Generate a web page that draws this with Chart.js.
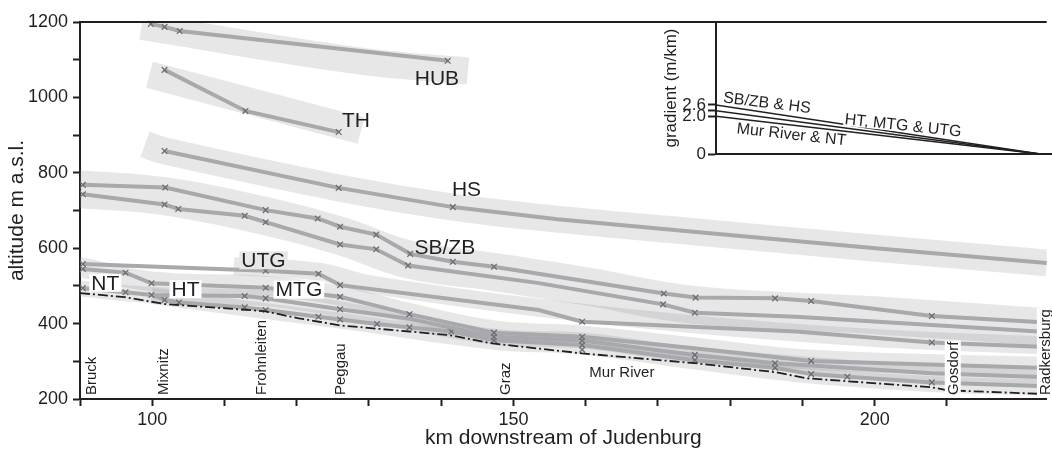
<!DOCTYPE html>
<html>
<head>
<meta charset="utf-8">
<script src="https://cdn.jsdelivr.net/npm/chart.js@4.4.1/dist/chart.umd.min.js"></script>
<style>
  body { margin: 0; background: #fff; }
  #wrap { position: relative; width: 1052px; height: 451px; }
  #wrap canvas { position: absolute; left: 0; top: 0; }
</style>
</head>
<body>
<div id="wrap">
  <canvas id="profile" width="1052" height="451"></canvas>
  <canvas id="inset" width="1052" height="451"></canvas>
</div>
<script>
// Terrace long profiles: km downstream of Judenburg vs altitude (m a.s.l.)
// *Marked = 1 where a surveyed point (x) sits on the line
const hubKm = [99.8, 101.7, 103.8, 140.9];
const hubAlt = [1195, 1187, 1176, 1097];
const hubMarked = [1, 1, 1, 1];

const thKm = [101.7, 112.9, 125.8];
const thAlt = [1073, 964, 908];
const thMarked = [1, 1, 1];

const hsKm = [101.7, 125.8, 141.6, 156.1, 175.3, 200.1, 223.8];
const hsAlt = [858, 760, 709, 677, 643, 600, 561];
const hsMarked = [1, 1, 1, 0, 0, 0, 0];

const sbzbUpperKm = [90.4, 101.8, 115.7, 122.9, 126.0, 131.0, 135.7, 141.6, 147.3, 170.8, 175.2, 186.2, 191.2, 207.9, 223.8];
const sbzbUpperAlt = [768, 761, 701, 679, 657, 636, 585, 564, 551, 480, 469, 467, 460, 420, 403];
const sbzbUpperMarked = [1, 1, 1, 1, 1, 1, 1, 1, 1, 1, 1, 1, 1, 1, 0];

const sbzbLowerKm = [90.4, 101.7, 103.6, 112.8, 115.7, 126.0, 131.0, 135.4, 153.3, 170.7, 175.1, 189.1, 223.8];
const sbzbLowerAlt = [743, 716, 704, 686, 669, 610, 597, 554, 508, 451, 429, 418, 378];
const sbzbLowerMarked = [1, 1, 1, 1, 1, 1, 1, 1, 0, 1, 1, 0, 0];

const utgKm = [90.4, 115.7, 123.0, 126.0, 153.5, 159.5, 189.1, 207.9, 223.8];
const utgAlt = [558, 540, 532, 502, 436, 405, 379, 350, 338];
const utgMarked = [1, 1, 1, 1, 0, 1, 0, 1, 0];

const mtgKm = [90.4, 96.3, 99.9, 115.7, 126.0, 135.6, 147.3, 159.5, 175.3, 191.2, 223.8];
const mtgAlt = [545, 535, 507, 495, 471, 425, 376, 365, 334, 301, 282];
const mtgMarked = [1, 1, 1, 1, 1, 1, 1, 1, 0, 1, 0];

const htKm = [90.4, 96.3, 99.9, 112.8, 115.7, 126.0, 135.6, 147.3, 159.5, 175.1, 186.2, 207.9, 223.8];
const htAlt = [494, 483, 476, 473, 467, 438, 413, 365, 355, 317, 295, 268, 258];
const htMarked = [1, 1, 1, 1, 1, 1, 0, 1, 1, 1, 1, 0, 0];

const ntKm = [99.9, 101.7, 103.7, 112.8, 115.7, 123.0, 126.0, 131.1, 135.6, 141.4, 147.3, 159.5, 175.1, 186.2, 191.2, 196.2, 207.9, 223.8];
const ntAlt = [476, 463, 456, 443, 436, 418, 411, 399, 390, 379, 356, 343, 303, 283, 266, 259, 244, 234];
const ntMarked = [0, 1, 1, 1, 1, 1, 1, 1, 1, 1, 1, 1, 1, 1, 1, 1, 1, 0];

// survey points not tied to one line
const extraKm = [159.5];
const extraAlt = [331];

// Mur River
const riverKm = [90.0, 96.2, 101.7, 115.5, 120.3, 126.1, 135.6, 141.3, 146.8, 153.3, 159.5, 175.1, 186.3, 190.5, 207.9, 210.1, 223.8];
const riverAlt = [481, 470, 452, 433, 414, 395, 379, 369, 348, 334, 321, 295, 271, 255, 231, 223, 213];

// grey envelopes around each terrace level (centre lines)
const hubBandKm = [98.5, 128.6, 143.7];
const hubBandAlt = [1188, 1097, 1070];
const thBandKm = [99.6, 128.9];
const thBandAlt = [1060, 912];
const hsBandKm = [99.0, 101.7, 125.8, 141.6, 156.1, 175.3, 200.1, 223.8];
const hsBandAlt = [876, 858, 760, 709, 677, 643, 600, 561];
const sbzbBandKm = [89.5, 101.7, 115.7, 126.0, 135.5, 147.3, 160.0, 175.2, 200.0, 223.8];
const sbzbBandAlt = [757, 738, 685, 633, 570, 537, 499, 449, 422, 390];
const utgBandKm = [111.3, 123.0, 130.0, 153.5, 175.0, 200.0, 223.8];
const utgBandAlt = [552, 538, 505, 442, 398, 362, 342];
const mtgBandKm = [89.5, 99.9, 115.7, 126.0, 135.6, 147.3, 159.5, 175.3, 191.2, 223.8];
const mtgBandAlt = [552, 512, 500, 474, 428, 382, 368, 336, 304, 285];
const htBandKm = [89.5, 99.9, 115.7, 126.0, 147.3, 159.5, 175.1, 207.9, 223.8];
const htBandAlt = [494, 476, 467, 438, 365, 355, 317, 268, 258];
const ntBandKm = [99.9, 115.7, 126.0, 147.3, 159.5, 175.1, 191.2, 207.9, 223.8];
const ntBandAlt = [474, 433, 408, 352, 339, 299, 262, 240, 230];

// places along the river
const townNames = ['Bruck', 'Mixnitz', 'Frohnleiten', 'Peggau', 'Graz', 'Gosdorf', 'Radkersburg'];
const townKm = [91.5, 101.5, 115.1, 125.9, 148.8, 210.8, 223.55];

// inset: downstream gradient (m/km)
const gradPos = [0, 0.965];
const gradSbzbHs = [2.6, 0];
const gradTerraces = [2.3, 0];
const gradRiverNt = [2.0, 0];
const gradTicks = [0, 2.0, 2.3, 2.6];

const FONT = "'Liberation Sans', Arial, Helvetica, sans-serif";
const INK = '#231f20';
const LINE = '#a7a9ac';
const MARK = '#6d6e71';
const BAND = 'rgba(150,152,156,0.23)';

Chart.defaults.font.family = FONT;
Chart.defaults.color = INK;

const pts = (xs, ys) => xs.map((v, i) => ({ x: v, y: ys[i] }));

function profile(km, alt, marked) {
    return {
        data: pts(km, alt),
        showLine: true,
        borderColor: LINE,
        borderWidth: 4,
        tension: 0,
        pointStyle: 'crossRot',
        pointRadius: marked.map(m => m ? 4 : 0),
        pointBorderColor: MARK,
        pointBorderWidth: 1.3,
        order: 2,
        clip: 4
    };
}

function band(km, alt, width) {
    return {
        data: pts(km, alt),
        showLine: true,
        borderColor: BAND,
        borderWidth: width,
        borderCapStyle: 'butt',
        borderJoinStyle: 'round',
        tension: 0.4,
        pointRadius: 0,
        order: 3,
        clip: 0
    };
}

// Labels drawn on top of the profile
const terraceLabels = [
    { text: 'HUB', km: 139.4, alt: 1051 },
    { text: 'TH', km: 128.2, alt: 940 },
    { text: 'HS', km: 143.5, alt: 756 },
    { text: 'SB/ZB', km: 140.5, alt: 602 },
    { text: 'UTG', km: 115.4, alt: 568, bg: '#e7e7e8' },
    { text: 'MTG', km: 120.3, alt: 490, bg: '#fff' },
    { text: 'HT', km: 104.6, alt: 491, bg: '#fff' },
    { text: 'NT', km: 93.5, alt: 508, bg: '#fff' }
];

const profileText = {
    id: 'profileText',
    afterDatasetsDraw(chart) {
        const { ctx, chartArea, scales: { x, y } } = chart;
        ctx.save();

        // frame line along the top
        ctx.strokeStyle = INK;
        ctx.lineWidth = 2;
        ctx.beginPath();
        ctx.moveTo(chartArea.left - 1, chartArea.top);
        ctx.lineTo(chartArea.right, chartArea.top);
        ctx.stroke();

        ctx.font = '21px ' + FONT;
        ctx.textAlign = 'center';
        ctx.textBaseline = 'middle';
        terraceLabels.forEach(l => {
            const px = x.getPixelForValue(l.km);
            const py = y.getPixelForValue(l.alt);
            if (l.bg) {
                const w = ctx.measureText(l.text).width;
                ctx.fillStyle = l.bg;
                ctx.fillRect(px - w / 2 - 2, py - 9, w + 4, 18);
            }
            ctx.fillStyle = INK;
            ctx.fillText(l.text, px, py + 1);
        });

        // town names, vertical along the bottom axis
        ctx.font = '15px ' + FONT;
        ctx.textAlign = 'left';
        townNames.forEach((name, i) => {
            const px = x.getPixelForValue(townKm[i]);
            const w = ctx.measureText(name).width;
            ctx.save();
            ctx.translate(px, chartArea.bottom - 4);
            ctx.rotate(-Math.PI / 2);
            ctx.fillStyle = '#fff';
            ctx.fillRect(-1, -8, w + 2, 16);
            ctx.fillStyle = INK;
            ctx.fillText(name, 0, 1);
            ctx.restore();
        });

        ctx.textAlign = 'center';
        ctx.fillText('Mur River', x.getPixelForValue(165.0), y.getPixelForValue(269));
        ctx.restore();
    }
};

new Chart(document.getElementById('profile'), {
    type: 'scatter',
    data: {
        datasets: [
            band(hubBandKm, hubBandAlt, 27),
            band(thBandKm, thBandAlt, 27),
            band(hsBandKm, hsBandAlt, 27),
            band(sbzbBandKm, sbzbBandAlt, 38),
            band(utgBandKm, utgBandAlt, 18),
            band(mtgBandKm, mtgBandAlt, 20),
            band(htBandKm, htBandAlt, 16),
            band(ntBandKm, ntBandAlt, 16),
            profile(hubKm, hubAlt, hubMarked),
            profile(thKm, thAlt, thMarked),
            profile(hsKm, hsAlt, hsMarked),
            profile(sbzbUpperKm, sbzbUpperAlt, sbzbUpperMarked),
            profile(sbzbLowerKm, sbzbLowerAlt, sbzbLowerMarked),
            profile(utgKm, utgAlt, utgMarked),
            profile(mtgKm, mtgAlt, mtgMarked),
            profile(htKm, htAlt, htMarked),
            profile(ntKm, ntAlt, ntMarked),
            {
                data: pts(extraKm, extraAlt),
                pointStyle: 'crossRot',
                pointRadius: 4,
                pointBorderColor: MARK,
                pointBorderWidth: 1.3,
                order: 2
            },
            {
                data: pts(riverKm, riverAlt),
                showLine: true,
                borderColor: INK,
                borderWidth: 1.8,
                borderDash: [10, 3, 2, 3],
                pointRadius: 0,
                order: 1,
                clip: 2
            }
        ]
    },
    options: {
        responsive: false,
        animation: false,
        events: [],
        layout: { padding: { top: 22, right: 0, left: 0, bottom: 0 } },
        plugins: { legend: { display: false }, tooltip: { enabled: false } },
        scales: {
            x: {
                type: 'linear',
                min: 90,
                max: 223.8,
                border: { display: true, color: INK, width: 2 },
                grid: { drawOnChartArea: false, tickLength: 7, tickColor: INK, tickWidth: 2 },
                ticks: {
                    stepSize: 10,
                    autoSkip: false,
                    maxRotation: 0,
                    padding: 3,
                    font: { size: 18 },
                    callback: v => (Math.round(v) % 50 === 0 ? String(Math.round(v)) : '')
                },
                afterBuildTicks: s => {
                    s.ticks = s.ticks.filter(t => Math.abs(t.value / 10 - Math.round(t.value / 10)) < 1e-6);
                },
                title: { display: true, text: 'km downstream of Judenburg', font: { size: 21 }, padding: 0 },
                afterFit: s => { s.height = 52; }
            },
            y: {
                min: 200,
                max: 1200,
                border: { display: true, color: INK, width: 2 },
                grid: { drawOnChartArea: false, tickLength: 7, tickColor: INK, tickWidth: 2 },
                ticks: {
                    stepSize: 100,
                    autoSkip: false,
                    padding: 5,
                    font: { size: 18 },
                    callback: v => (Math.round(v) % 200 === 0 ? String(Math.round(v)) : '')
                },
                title: { display: true, text: 'altitude m a.s.l.', font: { size: 21 }, padding: { top: 5, bottom: 0 } },
                afterFit: s => { s.width = 80; }
            }
        }
    },
    plugins: [profileText]
});

// Inset with the gradients
const gradientLabels = [
    { text: 'SB/ZB & HS', pos: 0.152, grad: 2.74, angle: 7 },
    { text: 'HT, MTG & UTG', pos: 0.557, grad: 1.54, angle: 6.2, bg: true },
    { text: 'Mur River & NT', pos: 0.225, grad: 1.06, angle: 6.3 }
];

const insetText = {
    id: 'insetText',
    afterDatasetsDraw(chart) {
        const { ctx, scales: { x, y } } = chart;
        ctx.save();
        ctx.font = '16px ' + FONT;
        ctx.textAlign = 'center';
        ctx.textBaseline = 'middle';
        gradientLabels.forEach(l => {
            ctx.save();
            ctx.translate(x.getPixelForValue(l.pos), y.getPixelForValue(l.grad));
            ctx.rotate(l.angle * Math.PI / 180);
            if (l.bg) {
                const w = ctx.measureText(l.text).width;
                ctx.fillStyle = '#fff';
                ctx.fillRect(-w / 2 - 1, -7, w + 2, 14);
            }
            ctx.fillStyle = INK;
            ctx.fillText(l.text, 0, 1);
            ctx.restore();
        });
        ctx.restore();
    }
};

const gradLine = vals => ({
    data: pts(gradPos, vals),
    showLine: true,
    borderColor: INK,
    borderWidth: 1.5,
    pointRadius: 0
});

new Chart(document.getElementById('inset'), {
    type: 'scatter',
    data: {
        datasets: [gradLine(gradSbzbHs), gradLine(gradTerraces), gradLine(gradRiverNt)]
    },
    options: {
        responsive: false,
        animation: false,
        events: [],
        layout: { padding: { top: 22, right: 0, left: 656, bottom: 297 } },
        plugins: { legend: { display: false }, tooltip: { enabled: false } },
        scales: {
            x: {
                type: 'linear',
                min: 0,
                max: 1,
                border: { display: true, color: INK, width: 2 },
                grid: { display: false },
                ticks: { display: false },
                afterFit: s => { s.height = 0; }
            },
            y: {
                min: 0,
                max: 7,
                border: { display: true, color: INK, width: 2 },
                grid: { drawOnChartArea: false, tickLength: 8, tickColor: INK, tickWidth: 2 },
                afterBuildTicks: s => { s.ticks = gradTicks.map(v => ({ value: v })); },
                ticks: {
                    autoSkip: false,
                    padding: 2,
                    font: { size: 17 },
                    callback: v => (v === 0 ? '0' : v === 2.3 ? '' : v.toFixed(1))
                },
                title: { display: true, text: 'gradient (m/km)', font: { size: 17 }, padding: { top: 5, bottom: 0 } },
                afterFit: s => { s.width = 60; }
            }
        }
    },
    plugins: [insetText]
});
</script>
</body>
</html>
